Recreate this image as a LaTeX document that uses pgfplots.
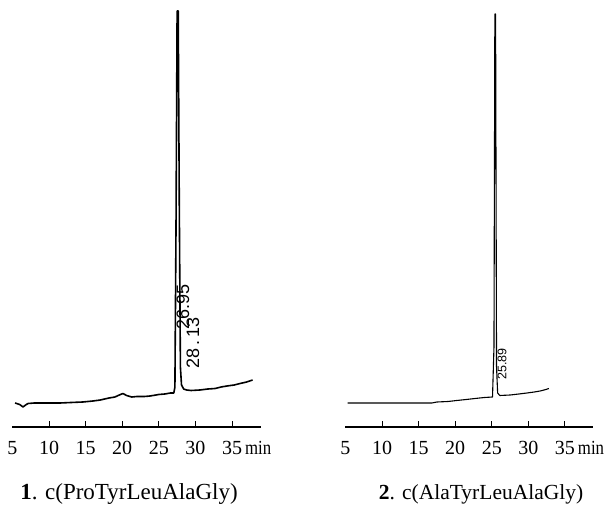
\documentclass[border=0pt]{standalone}
\usepackage{fontspec}
\setmainfont{Liberation Serif}
\newfontfamily\annot{Liberation Sans}
\usepackage{graphicx}
\usepackage{pgfplots}
\pgfplotsset{compat=1.18}

\pgfplotsset{
  chrom/.style={
    scale only axis, height=427pt,
    anchor=south west,
    ymin=0, ymax=427, xmin=5,
    axis x line=bottom, axis y line=none,
    x axis line style={-, line width=1.5pt},
    xtick={10,15,20,25,30,35},
    xticklabels={10,15,20,25,30,{35\rlap{\kern3pt\scalebox{0.84}[1]{min}}}},
    extra x ticks={5}, extra x tick labels={5},
    extra x tick style={major tick length=0pt},
    tick align=inside, major tick length=6.5pt,
    tick style={black, line width=1pt},
    xticklabel style={anchor=base, yshift=-27pt, font=\fontsize{20}{20}\selectfont},
    clip=false,
  },
}

\begin{document}
\begin{tikzpicture}[x=1pt,y=1pt]
\path[use as bounding box] (0,0) rectangle (607,504);

% chromatogram 1
\begin{axis}[chrom, at={(12.4pt,77pt)}, width=248.6pt, xmax=38.96]
\addplot[black, line width=1.6pt, line join=round] coordinates {
(5.36,24) (6.0,22.5) (6.45,20) (6.8,22) (7.13,23.5) (8.0,24) (9.5,24)
(11.5,24) (13.0,24.5) (14.6,25) (16.0,26) (17.0,27) (18.2,29) (19.0,30)
(19.6,32) (20.1,33.5) (20.6,31.5) (21.3,30) (22.0,30.5) (23.0,30.5)
(23.8,31) (25.0,32.5) (25.8,33) (26.6,34) (27.05,34) (27.2,40)
(27.35,200) (27.5,416) (27.65,416) (27.8,220) (27.95,60) (28.1,42)
(28.4,38) (28.8,37) (29.4,36.5) (30.6,37) (31.7,38) (32.7,38.5)
(33.5,40) (34.3,41) (35.3,42) (36.1,43.5) (37.0,45) (37.8,47)
};
\node[rotate=90, font=\annot\fontsize{18}{18}\selectfont] at (axis cs:28.3,120) {26.95};
\node[rotate=90, font=\annot\fontsize{18}{18}\selectfont] at (axis cs:29.67,84) {28\,.\,13};
\end{axis}

% chromatogram 2
\begin{axis}[chrom, at={(345.4pt,77pt)}, width=247.6pt, xmax=38.83]
\addplot[black, line width=1.1pt, line join=round] coordinates {
(5.3,24) (10,24) (14,24) (16.8,24) (17.5,25) (19,25.5) (20.2,26.5)
(21.5,27.5) (22.7,28.5) (24.0,29.5) (25.1,30) (25.3,80) (25.42,413)
(25.52,413) (25.65,60) (25.8,34) (26.1,31.5) (27.5,32) (28.7,33)
(29.8,34) (30.8,35) (31.6,36) (32.4,37.5) (32.8,38.5)
};
\node[rotate=90, font=\annot\fontsize{12.5}{12.5}\selectfont] at (axis cs:26.4,63) {25.89};
\end{axis}

\node[anchor=base, font=\fontsize{23}{23}\selectfont] at (129,5) {\textbf{1}. c(ProTyrLeuAlaGly)};
\node[anchor=base, font=\fontsize{21.5}{21.5}\selectfont] at (481,5) {\textbf{2}. c(AlaTyrLeuAlaGly)};
\end{tikzpicture}
\end{document}
